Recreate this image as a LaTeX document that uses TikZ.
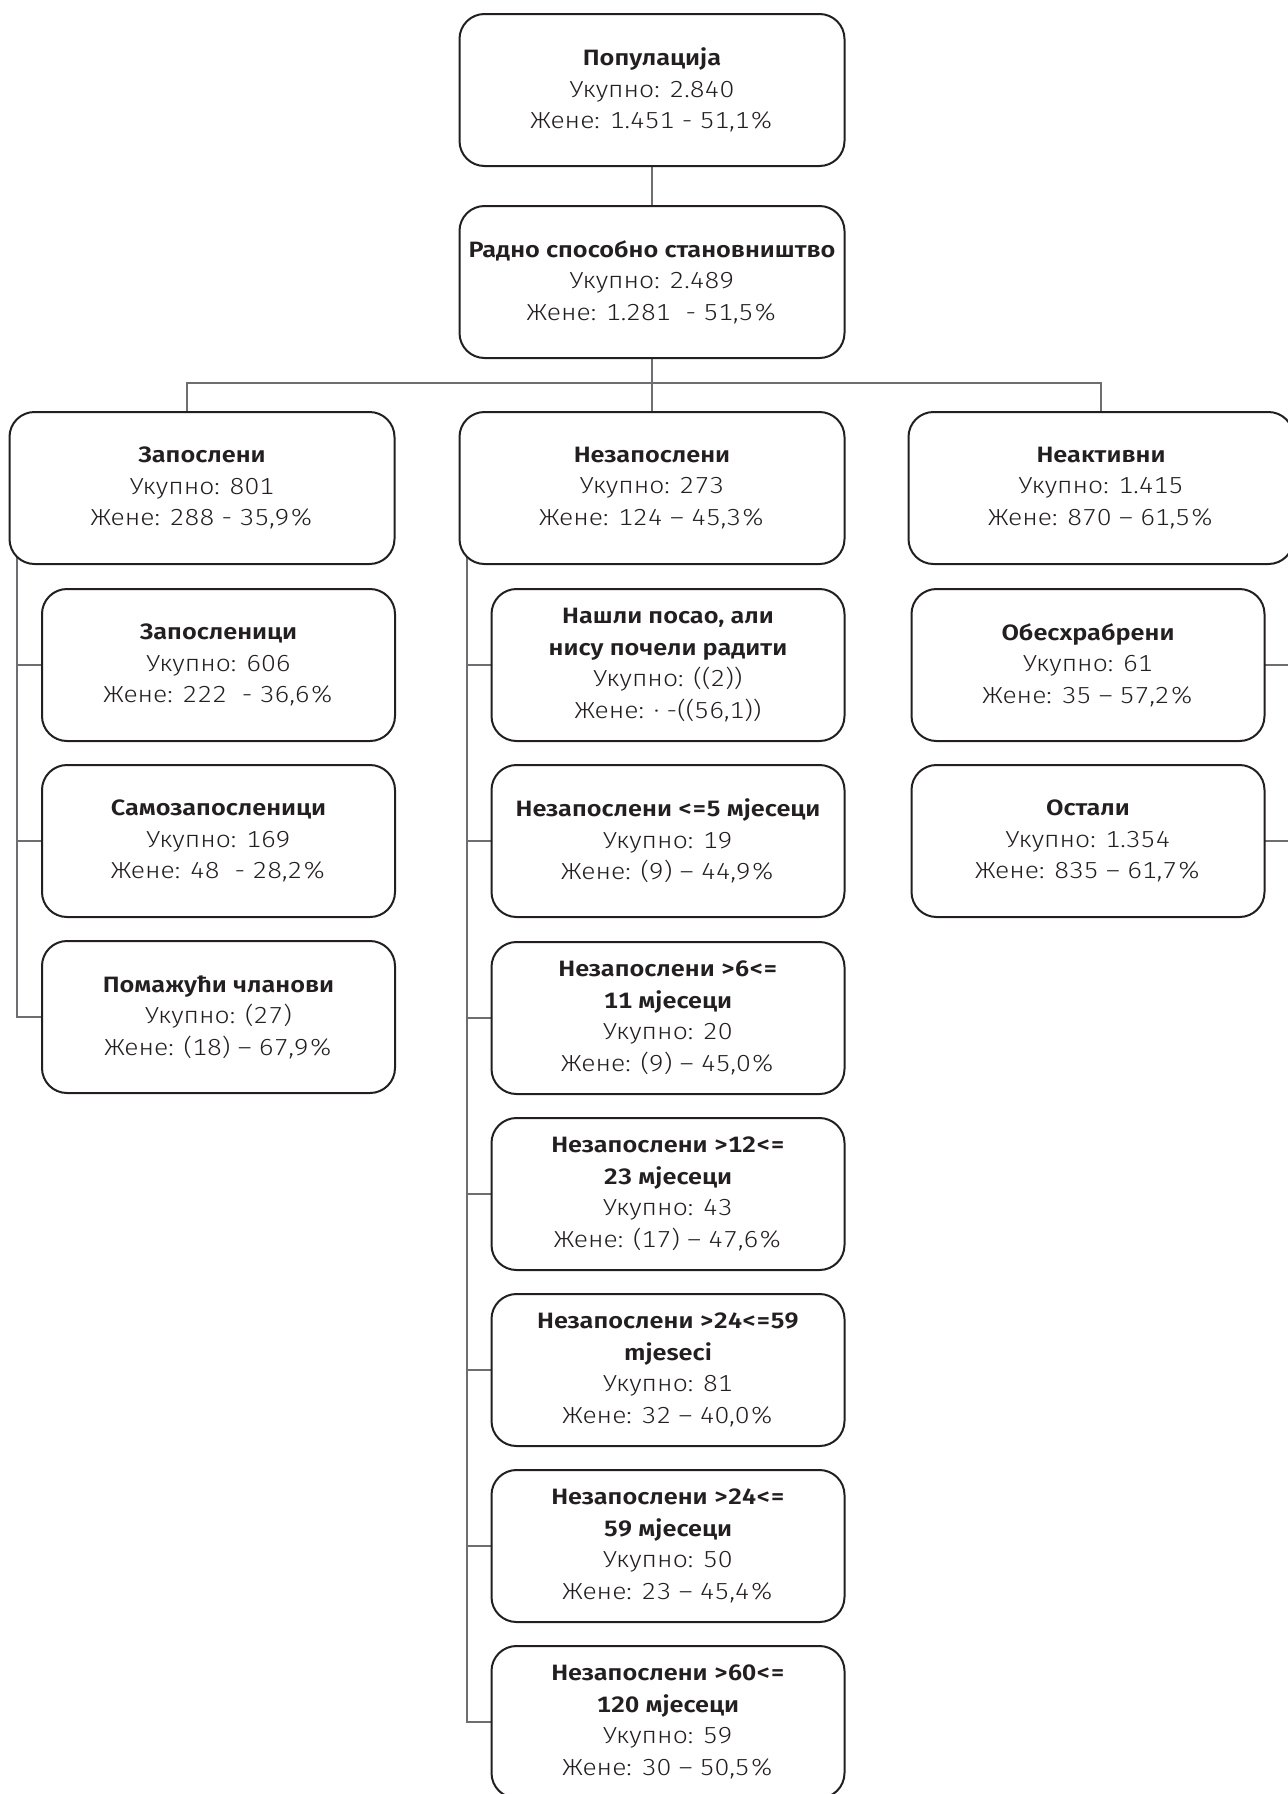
\documentclass[tikz,border=0pt]{standalone}
\usepackage{fontspec}
\setmainfont{Fira Sans}[UprightFont={* Light},BoldFont={* SemiBold},FakeStretch=1.14,Numbers=Monospaced]
\usetikzlibrary{backgrounds}

\definecolor{boxline}{HTML}{231F20}
\definecolor{linkcol}{HTML}{6D6E71}
\definecolor{textcol}{HTML}{231F20}

\newcommand{\boxtitle}[1]{{\fontsize{11.1}{15.6}\selectfont\bfseries #1}}

\tikzset{
	box/.style={draw=boxline, line width=1pt, rounded corners=12.5pt, fill=white,
		align=center, text=textcol, font=\fontsize{11.6}{15.8}\selectfont,
		inner sep=2pt, outer sep=0pt, minimum width=192.5pt, minimum height=76pt},
	subbox/.style={box, minimum width=176.5pt},
	link/.style={draw=linkcol, line width=0.65pt}
}

\begin{document}
\begin{tikzpicture}[x=0.5pt,y=-0.5pt]
		\useasboundingbox (0,0) rectangle (1287,1794);
		
		\node[box] (pop) at (652,90) {\boxtitle{Популација}\\Укупно: 2.840\\Жене: 1.451 - 51,1\%};
		\node[box] (rad) at (652,282) {\boxtitle{Радно способно становништво}\\Укупно: 2.489\\Жене: 1.281 \ - 51,5\%};
		
		\node[box] (zap) at (202,488) {\boxtitle{Запослени}\\Укупно: 801\\Жене: 288 - 35,9\%};
		\node[box] (nez) at (652,488) {\boxtitle{Незапослени}\\Укупно: 273\\Жене: 124 – 45,3\%};
		\node[box] (nea) at (1101,488) {\boxtitle{Неактивни}\\Укупно: 1.415\\Жене: 870 – 61,5\%};
		
		\node[subbox] (zpc) at (218.5,665) {\boxtitle{Запосленици}\\Укупно: 606\\Жене: 222 \ - 36,6\%};
		\node[subbox] (szp) at (218.5,841) {\boxtitle{Самозапосленици}\\Укупно: 169\\Жене: 48 \ - 28,2\%};
		\node[subbox] (pom) at (218.5,1017) {\boxtitle{Помажући чланови}\\Укупно: (27)\\Жене: (18) – 67,9\%};
		
		\node[subbox] (nas) at (668,665) {\boxtitle{Нашли посао, али}\\\boxtitle{нису почели радити}\\Укупно: ((2))\\Жене: · -((56,1))};
		\node[subbox] (n05) at (668,841) {\boxtitle{Незапослени <=5 мјесеци}\\Укупно: 19\\Жене: (9) – 44,9\%};
		\node[subbox] (n611) at (668,1018) {\boxtitle{Незапослени >6<=}\\\boxtitle{11 мјесеци}\\Укупно: 20\\Жене: (9) – 45,0\%};
		\node[subbox] (n1223) at (668,1194) {\boxtitle{Незапослени >12<=}\\\boxtitle{23 мјесеци}\\Укупно: 43\\Жене: (17) – 47,6\%};
		\node[subbox] (n2459a) at (668,1370) {\boxtitle{Незапослени >24<=59}\\\boxtitle{mjeseci}\\Укупно: 81\\Жене: 32 – 40,0\%};
		\node[subbox] (n2459b) at (668,1546) {\boxtitle{Незапослени >24<=}\\\boxtitle{59 мјесеци}\\Укупно: 50\\Жене: 23 – 45,4\%};
		\node[subbox] (n60120) at (668,1722) {\boxtitle{Незапослени >60<=}\\\boxtitle{120 мјесеци}\\Укупно: 59\\Жене: 30 – 50,5\%};
		
		\node[subbox] (obe) at (1088,665) {\boxtitle{Обесхрабрени}\\Укупно: 61\\Жене: 35 – 57,2\%};
		\node[subbox] (ost) at (1088,841) {\boxtitle{Остали}\\Укупно: 1.354\\Жене: 835 – 61,7\%};
		
		\coordinate (busL) at (187,383);
		\coordinate (busR) at (1101,383);
		\coordinate (spL) at (17,0);
		\coordinate (spM) at (467,0);
		\coordinate (spR) at (1300,0);
		
		\begin{scope}[on background layer]
			\draw[link] (pop) -- (rad);
			\draw[link] (rad) -- (nez);
			\draw[link] (zap.north -| busL) |- (busR) -- (nea);
			
			\draw[link] (zap -| spL) |- (pom.west);
			\draw[link] (zpc.west -| spL) -- (zpc.west);
			\draw[link] (szp.west -| spL) -- (szp.west);
			
			\draw[link] (nez -| spM) |- (n60120.west);
			\draw[link] (nas.west -| spM) -- (nas.west);
			\draw[link] (n05.west -| spM) -- (n05.west);
			\draw[link] (n611.west -| spM) -- (n611.west);
			\draw[link] (n1223.west -| spM) -- (n1223.west);
			\draw[link] (n2459a.west -| spM) -- (n2459a.west);
			\draw[link] (n2459b.west -| spM) -- (n2459b.west);
			
			\draw[link] (nea -| spR) |- (ost.east);
			\draw[link] (obe.east -| spR) -- (obe.east);
		\end{scope}
	\end{tikzpicture}
\end{document}
